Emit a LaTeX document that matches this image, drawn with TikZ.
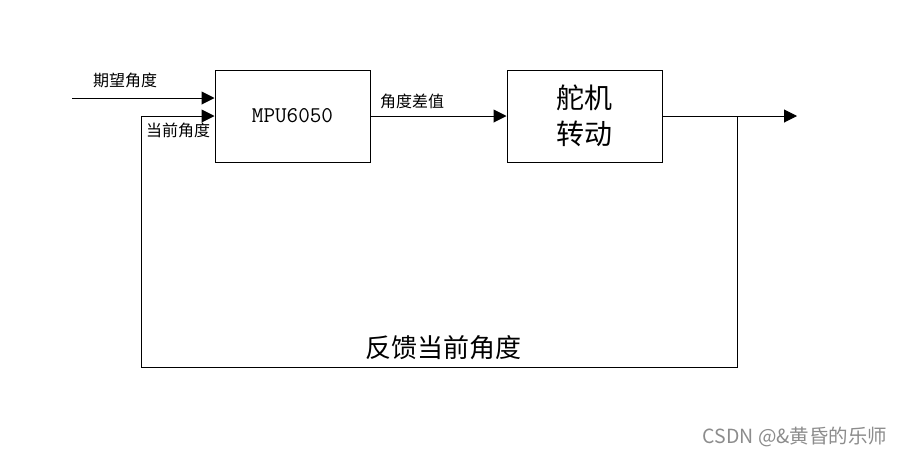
\documentclass[tikz,border=0pt]{standalone}
\usepackage{fontspec}
\setmainfont{Noto Sans CJK SC}
\usetikzlibrary{arrows.meta,positioning}

\tikzset{
  block/.style={draw, line width=1pt, minimum width=155pt, minimum height=92pt, inner sep=0pt},
  sig/.style={line width=1pt, -{Triangle[length=13pt,width=13pt]}},
  lbl/.style={font=\fontsize{16}{16}\selectfont, inner sep=0pt},
}

\begin{document}
\begin{tikzpicture}[x=1pt, y=-1pt]
    \useasboundingbox (0,0) rectangle (902,456);

    % Blocks
    \node[block, font=\ttfamily\fontsize{22.5}{22.5}\selectfont] (mpu) at (292.5,116) {MPU6050};
    \node[block, right=136pt of mpu, align=center, font=\fontsize{28}{36}\selectfont] (servo) {舵机\\转动};

    % Signal points
    \coordinate (in) at (72,98);
    \coordinate[right=75pt of servo.east] (branch);
    \coordinate (out) at (797,116);
    \coordinate (bl) at (141,367);

    % Forward path
    \draw[sig] (in) -- (in -| mpu.west);
    \draw[sig] (mpu.east) -- (servo.west);
    \draw[sig] (servo.east) -- (out);

    % Feedback loop
    \draw[sig] (branch) |- (bl) |- (mpu.west);

    % Labels
    \node[lbl] (want) at (125,80) {期望角度};
    \node[lbl] (cur) at (178,130) {当前角度};
    \node[lbl] (diff) at (412,101) {角度差值};
    \node[font=\fontsize{26}{26}\selectfont, inner sep=0pt] (fb) at (443,348) {反馈当前角度};
    \node[font=\fontsize{19.5}{19.5}\selectfont, text=black!45, inner sep=0pt] (mark) at (795,437) {CSDN @\&黄昏的乐师};
\end{tikzpicture}
\end{document}
